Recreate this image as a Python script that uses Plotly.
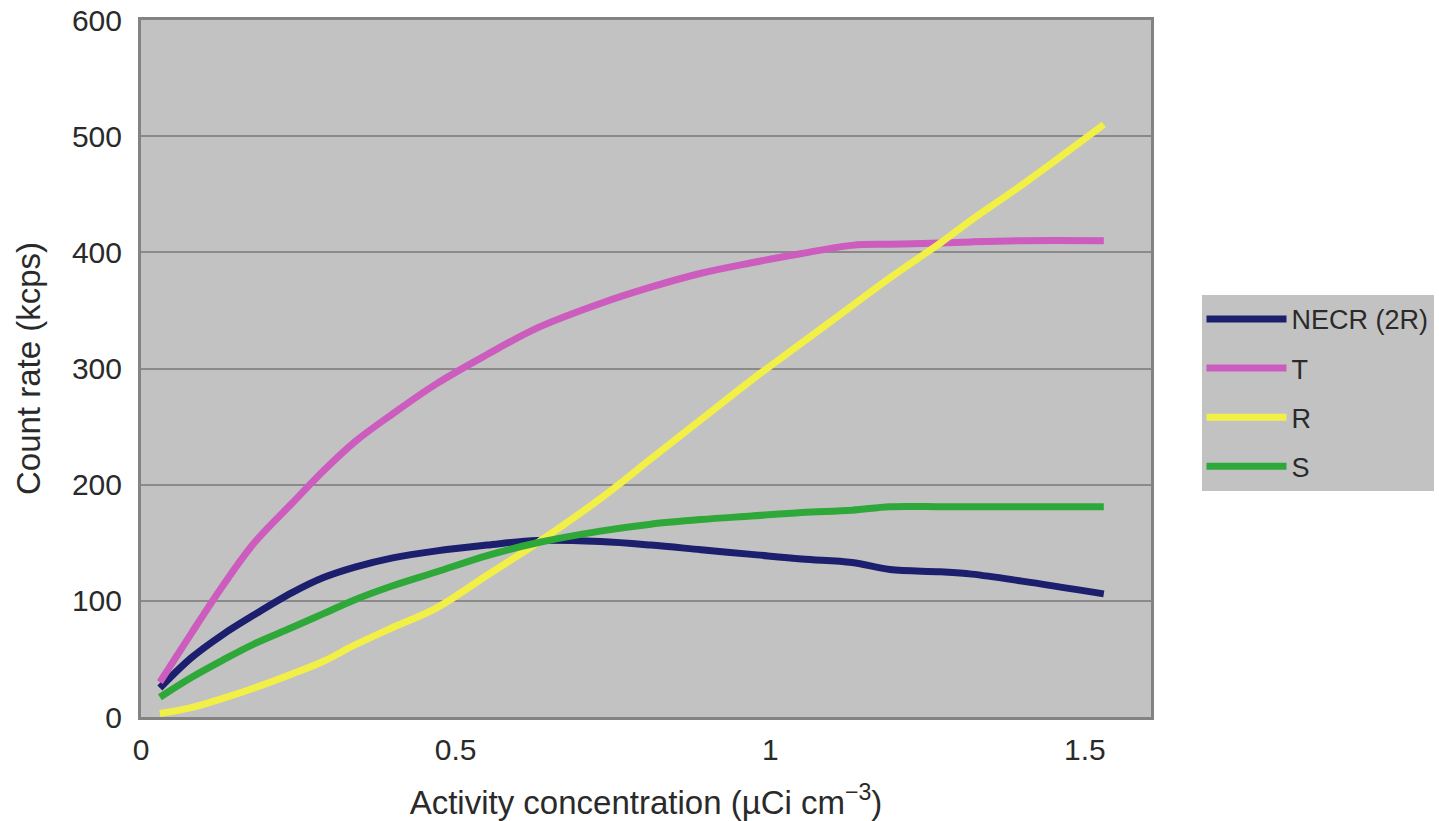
import plotly.graph_objects as go

activity = [0.03, 0.08, 0.13, 0.18, 0.24, 0.29, 0.34, 0.40, 0.47, 0.55, 0.63,
            0.73, 0.81, 0.89, 0.97, 1.05, 1.13, 1.19, 1.27, 1.32, 1.40, 1.53]

necr = [25, 51, 71, 88, 107, 120, 129, 137, 143, 148, 152,
        151, 148, 144, 140, 136, 133, 127, 125, 123, 117, 106]
trues = [30, 72, 113, 150, 184, 212, 237, 261, 287, 312, 335,
         356, 370, 382, 391, 399, 406, 407, 408, 409, 410, 410]
randoms = [3, 8, 16, 25, 37, 48, 62, 77, 94, 122, 150,
           188, 222, 256, 290, 322, 354, 378, 408, 428, 458, 510]
scatter = [17, 34, 49, 63, 77, 89, 101, 113, 125, 139, 150,
           160, 166, 170, 173, 176, 178, 181, 181, 181, 181, 181]

series_names = ["NECR (2R)", "T", "R", "S"]
series_values = [necr, trues, randoms, scatter]
series_colors = ["#1b1f6e", "#cc5cbd", "#f2f047", "#2fa83a"]

x_ticks = [0, 0.5, 1, 1.5]
x_tick_labels = ["0", "0.5", "1", "1.5"]
y_ticks = [0, 100, 200, 300, 400, 500, 600]

font_family = "Liberation Sans, Arial, sans-serif"

fig = go.Figure()
for name, vals, col in zip(series_names, series_values, series_colors):
    fig.add_trace(go.Scatter(
        x=activity, y=vals, mode="lines", name=name,
        legendgroup=name,
        line=dict(color=col, width=7, shape="spline", smoothing=1.0),
    ))

fig.update_layout(
    width=1439, height=821,
    paper_bgcolor="white",
    plot_bgcolor="#c2c2c2",
    margin=dict(l=141, r=288, t=20, b=104, autoexpand=False),
    font=dict(family=font_family, size=30, color="#2a2a2a"),
    showlegend=True,
    legend=dict(
        x=1.05, y=0.465, xanchor="left", yanchor="middle",
        bgcolor="#c2c2c2", borderwidth=0,
        font=dict(size=27, color="#2a2a2a"),
        tracegroupgap=11,
        itemwidth=80,
    ),
)

fig.update_xaxes(
    range=[0, 1.605],
    tickvals=x_ticks, ticktext=x_tick_labels,
    tickfont=dict(size=30),
    showgrid=False, zeroline=False, automargin=False,
    showline=True, linecolor="#838383", linewidth=3, mirror=True,
    ticks="", ticklabelstandoff=4,
    title=dict(text="Activity concentration (µCi cm<sup>−3</sup>)",
               font=dict(size=33), standoff=28),
)
fig.update_yaxes(
    range=[0, 600],
    tickvals=y_ticks,
    tickfont=dict(size=30),
    showgrid=True, gridcolor="#8a8a8a", gridwidth=2,
    zeroline=False, automargin=False,
    showline=True, linecolor="#838383", linewidth=3, mirror=True,
    ticks="", ticklabelstandoff=10,
    title=dict(text="Count rate (kcps)", font=dict(size=33), standoff=22),
)

fig.write_html("out.html", config={"displayModeBar": False},
               post_script="document.body.style.margin='0';")
